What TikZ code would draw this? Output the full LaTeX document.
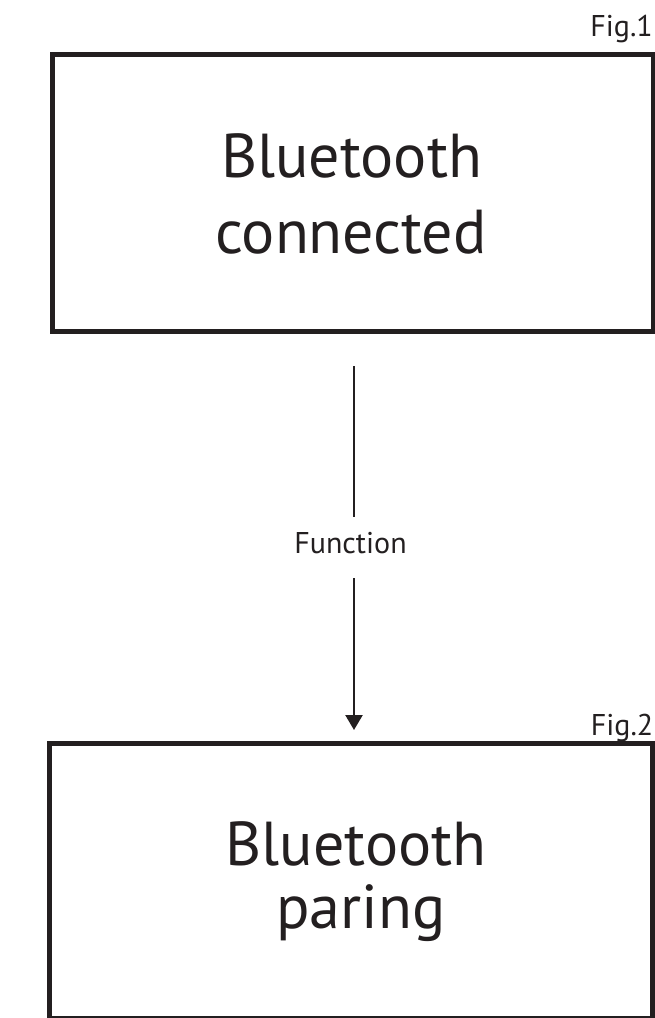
\documentclass[tikz,border=0pt]{standalone}
\usepackage{fontspec}
\setmainfont{PT Sans}
\usetikzlibrary{arrows.meta}
\definecolor{ink}{RGB}{35,31,32}
\begin{document}
\begin{tikzpicture}[x=1pt,y=-1pt,
  box/.style={draw=ink, line width=5pt, rectangle, inner sep=0pt, outer sep=0pt},
  big/.style={font=\fontsize{62}{70}\selectfont, text=ink, inner sep=0pt, anchor=base},
  small/.style={font=\fontsize{30}{34}\selectfont, text=ink, inner sep=0pt},
  conn/.style={draw=ink, line width=2.4pt}]
\useasboundingbox (0,0) rectangle (655,1018);
\fill[white] (0,0) rectangle (655,1018);
\node[box, minimum width=600.5pt, minimum height=276.5pt] (top) at (352.75,192.75) {};
\node[box, minimum width=603pt, minimum height=275.5pt] (bot) at (351,880.75) {};
\node[big] (t1) at (351.5,177) {Bluetooth};
\node[big] (t2) at (351,253) {connected};
\node[big] (t3) at (356,865) {Bluetooth};
\node[big] (t4) at (361,928) {paring};
\node[small, anchor=base east] (fig1) at (653,36.7) {Fig.1};
\node[small, anchor=base east] (fig2) at (653.5,735.5) {Fig.2};
\node[small, anchor=base, text height=22pt, text depth=0pt] (lbl) at (350.5,553) {Function};
\coordinate (ax) at (354,0);
\draw[conn, shorten <=35pt, shorten >=14pt] (top.south -| ax) -- (lbl.north -| ax);
\draw[conn, shorten <=25pt, shorten >=13pt, -{Triangle[width=17pt,length=15pt]}] (lbl.south -| ax) -- (bot.north -| ax);
\end{tikzpicture}
\end{document}
